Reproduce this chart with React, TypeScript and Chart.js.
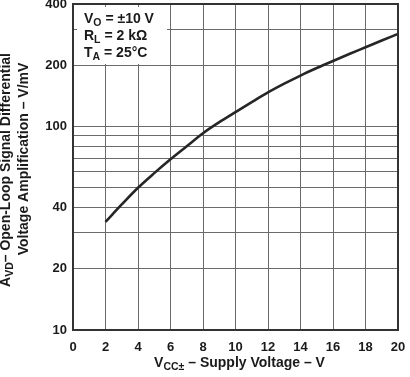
import React, { useEffect, useRef } from "react";
import { Chart, registerables } from "chart.js";

Chart.register(...registerables);

// ---- data ----
const supplyVoltage = [2, 3, 4, 5, 6, 7, 8, 9, 10, 11, 12, 13, 14, 15, 16, 17, 18, 19, 20];
const gainVperMV = [34, 41.4, 50, 59, 69, 80, 92.7, 105, 117.8, 131.8, 147, 162.3, 178, 193.8, 210, 227, 245, 264.5, 285];
const xTickValues = [0, 2, 4, 6, 8, 10, 12, 14, 16, 18, 20];
const yGridValues = [10, 20, 30, 40, 50, 60, 70, 80, 90, 100, 200, 300, 400];
const yTickLabels = [10, 20, 40, 100, 200, 400];

type Part = { t: string; sub?: boolean };
const conditionLines: Part[][] = [
  [{ t: "V" }, { t: "O", sub: true }, { t: " = ±10 V" }],
  [{ t: "R" }, { t: "L", sub: true }, { t: " = 2 kΩ" }],
  [{ t: "T" }, { t: "A", sub: true }, { t: " = 25°C" }],
];
const xTitle: Part[] = [{ t: "V" }, { t: "CC±", sub: true }, { t: " – Supply Voltage – V" }];
const yTitle1: Part[] = [{ t: "A" }, { t: "VD", sub: true }, { t: "– Open-Loop Signal Differential" }];
const yTitle2: Part[] = [{ t: "Voltage Amplification – V/mV" }];

const FAMILY = '"Liberation Sans", Arial, Helvetica, sans-serif';
const TEXT = "#1a1a1a";
const GRID = "#6a6a6a";
const FRAME = "#333333";

function drawRich(
  ctx: CanvasRenderingContext2D,
  parts: Part[],
  x: number,
  y: number,
  align: "left" | "center",
  size: number,
  subSize: number,
  subDrop: number
) {
  const widths = parts.map((p) => {
    ctx.font = `bold ${p.sub ? subSize : size}px ${FAMILY}`;
    return ctx.measureText(p.t).width;
  });
  const total = widths.reduce((a, b) => a + b, 0);
  let cx = align === "center" ? x - total / 2 : x;
  ctx.textAlign = "left";
  ctx.textBaseline = "alphabetic";
  parts.forEach((p, i) => {
    ctx.font = `bold ${p.sub ? subSize : size}px ${FAMILY}`;
    ctx.fillText(p.t, cx, y + (p.sub ? subDrop : 0));
    cx += widths[i];
  });
}

const decorPlugin = {
  id: "decor",
  beforeDatasetsDraw(chart: any) {
    const ctx: CanvasRenderingContext2D = chart.ctx;
    const a = chart.chartArea;
    ctx.save();
    ctx.fillStyle = "#ffffff";
    ctx.fillRect(a.left + 4, a.top + 3, 90, 57);
    ctx.fillStyle = TEXT;
    conditionLines.forEach((line, i) => {
      drawRich(ctx, line, a.left + 11, a.top + 19 + i * 17, "left", 14, 10.5, 3);
    });
    ctx.restore();
  },
  afterDatasetsDraw(chart: any) {
    const ctx: CanvasRenderingContext2D = chart.ctx;
    const a = chart.chartArea;
    ctx.save();
    ctx.strokeStyle = FRAME;
    ctx.lineWidth = 2;
    ctx.strokeRect(a.left, a.top, a.right - a.left, a.bottom - a.top);
    ctx.restore();
  },
  afterDraw(chart: any) {
    const ctx: CanvasRenderingContext2D = chart.ctx;
    const a = chart.chartArea;
    ctx.save();
    ctx.fillStyle = TEXT;
    drawRich(ctx, xTitle, (a.left + a.right) / 2 + 4, a.bottom + 37, "center", 14, 10.5, 3);
    ctx.save();
    ctx.translate(10, (a.top + a.bottom) / 2 + 3);
    ctx.rotate(-Math.PI / 2);
    drawRich(ctx, yTitle1, 0, 0, "center", 14, 10.5, 3);
    ctx.restore();
    ctx.save();
    ctx.translate(28, (a.top + a.bottom) / 2 - 8);
    ctx.rotate(-Math.PI / 2);
    drawRich(ctx, yTitle2, 0, 0, "center", 14, 10.5, 3);
    ctx.restore();
    ctx.restore();
  },
};

export default function App() {
  const ref = useRef<HTMLCanvasElement | null>(null);

  useEffect(() => {
    if (!ref.current) return;
    const chart = new Chart(ref.current, {
      type: "line",
      data: {
        datasets: [
          {
            data: supplyVoltage.map((v, i) => ({ x: v, y: gainVperMV[i] })),
            borderColor: "#262626",
            borderWidth: 2.6,
            pointRadius: 0,
            cubicInterpolationMode: "monotone",
            fill: false,
          },
        ],
      },
      options: {
        animation: false,
        responsive: false,
        devicePixelRatio: 1,
        layout: { padding: { left: 0, right: 12, top: 4, bottom: 0 } },
        plugins: {
          legend: { display: false },
          tooltip: { enabled: false },
          title: { display: false },
        },
        scales: {
          x: {
            type: "linear",
            min: 0,
            max: 20,
            afterBuildTicks: (scale: any) => {
              scale.ticks = xTickValues.map((v) => ({ value: v }));
            },
            afterFit: (scale: any) => {
              scale.height = 47;
              scale.paddingLeft = 0;
              scale.paddingRight = 0;
            },
            grid: { color: GRID, lineWidth: 1, drawTicks: false },
            border: { display: false },
            ticks: {
              autoSkip: false,
              maxRotation: 0,
              padding: 10,
              color: TEXT,
              font: { family: FAMILY, size: 13, weight: "bold" },
            },
          },
          y: {
            type: "logarithmic",
            min: 10,
            max: 400,
            afterBuildTicks: (scale: any) => {
              scale.ticks = yGridValues.map((v) => ({ value: v }));
            },
            afterFit: (scale: any) => {
              scale.width = 73;
              scale.paddingTop = 0;
              scale.paddingBottom = 0;
            },
            grid: { color: GRID, lineWidth: 1, drawTicks: false },
            border: { display: false },
            ticks: {
              autoSkip: false,
              padding: 6,
              color: TEXT,
              font: { family: FAMILY, size: 13, weight: "bold" },
              callback: (v: any) => (yTickLabels.includes(Number(v)) ? String(v) : ""),
            },
          },
        },
      },
      plugins: [decorPlugin],
    } as any);
    return () => chart.destroy();
  }, []);

  return (
    <div style={{ position: "fixed", left: 0, top: 0, width: 410, height: 377, background: "#fff" }}>
      <canvas ref={ref} width={410} height={377} style={{ display: "block", width: 410, height: 377 }} />
    </div>
  );
}
